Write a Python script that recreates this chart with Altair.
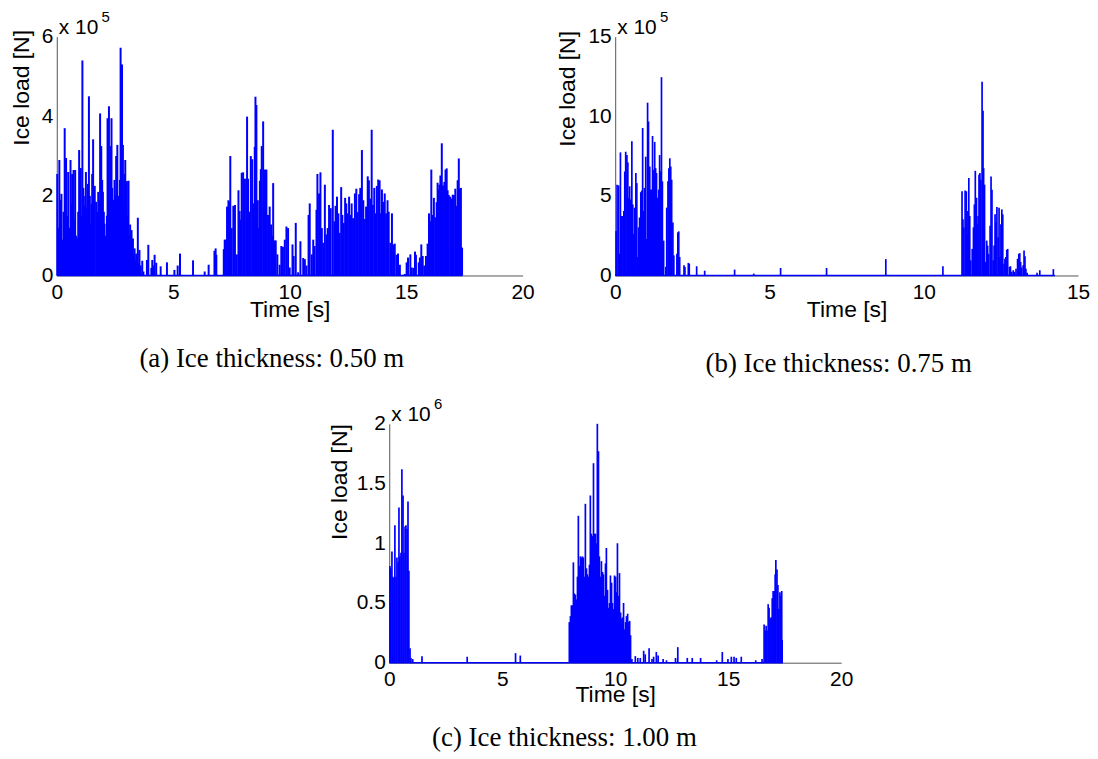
import altair as alt
import pandas as pd

# ---------------- data ----------------
# Panel (a): ice thickness 0.50 m, load in units of 1e5 N
a_time = [0.02,0.06,0.11,0.16,0.2,0.25,0.29,0.34,0.37,0.4,0.45,0.49,0.54,0.59,0.63,0.66,0.72,0.76,0.79,0.83,
          0.87,0.92,0.96,1.0,1.03,1.06,1.1,1.14,1.18,1.22,1.25,1.3,1.34,1.38,1.42,1.45,1.49,1.52,1.56,1.6,
          1.63,1.69,1.73,1.78,1.82,1.86,1.91,1.95,1.98,2.02,2.05,2.09,2.12,2.15,2.18,2.21,2.24,2.28,2.31,2.35,
          2.38,2.42,2.45,2.48,2.52,2.55,2.6,2.64,2.67,2.71,2.74,2.77,2.8,2.84,2.87,2.9,2.94,2.97,3.01,3.05,
          3.08,3.12,3.15,3.18,3.21,3.24,3.27,3.31,3.34,3.38,3.41,3.45,3.48,3.52,3.55,3.6,3.67,3.72,3.87,3.93,
          4.06,4.1,4.15,4.2,4.27,4.46,4.73,5.05,5.19,5.29,5.85,6.35,6.52,6.77,6.82,6.85,
          7.17,7.21,7.25,7.31,7.37,7.43,7.45,7.51,7.58,7.65,7.73,7.8,7.85,7.9,7.94,8.0,8.07,8.13,8.17,8.21,
          8.25,8.29,8.33,8.39,8.46,8.5,8.53,8.57,8.63,8.68,8.72,8.76,8.8,8.86,8.9,8.94,9.0,9.07,9.14,9.2,
          9.25,9.29,9.35,9.4,9.47,9.57,9.64,9.71,9.79,9.86,9.93,10.0,10.12,10.17,10.26,10.36,10.46,10.58,10.65,10.72,
          10.81,10.86,10.95,11.01,11.07,11.15,11.19,11.26,11.32,11.38,11.44,11.51,11.58,11.63,11.69,11.76,11.85,11.92,11.97,12.03,
          12.09,12.15,12.21,12.26,12.32,12.38,12.43,12.49,12.55,12.6,12.66,12.72,12.8,12.86,12.92,12.98,13.03,13.1,13.16,13.22,
          13.28,13.35,13.4,13.46,13.52,13.57,13.63,13.69,13.74,13.8,13.86,13.91,13.96,14.01,14.08,14.14,14.2,14.25,14.32,14.39,
          14.45,14.51,14.59,14.65,14.73,14.94,15.02,15.08,15.18,15.24,15.31,15.38,15.42,15.54,15.59,15.65,15.71,15.78,15.85,15.92,
          15.98,16.03,16.08,16.13,16.19,16.25,16.31,16.35,16.39,16.43,16.47,16.53,16.58,16.64,16.69,16.74,16.78,16.83,16.89,16.94,
          17.0,17.05,17.11,17.17,17.21,17.26,17.31,17.35,17.4]
a_load = [2.55,1.2,2.9,1.9,2.05,0.9,1.6,3.7,2.9,2.95,1.5,2.6,1.2,2.9,1.8,2.55,2.65,1.4,2.65,1.0,
          0.93,1.6,3.15,1.9,2.7,1.5,5.4,2.2,1.75,2.0,2.6,1.7,2.3,4.5,2.0,1.3,1.8,2.55,3.42,2.0,
          2.25,1.85,1.6,2.1,1.9,4.07,3.25,2.4,2.1,1.6,1.3,1.0,0.8,1.5,3.95,3.0,4.25,1.9,3.25,3.95,
          2.2,1.5,1.9,2.4,2.0,3.0,3.28,2.0,1.3,2.4,5.72,4.9,5.3,3.28,1.8,2.55,2.9,1.9,2.37,1.5,
          2.38,1.0,1.28,0.9,1.14,0.6,0.93,0.5,0.68,0.4,0.55,0.3,1.45,0.3,0.64,0.25,0.37,0.1,0.39,0.77,
          0.19,0.39,0.25,0.52,0.32,0.23,0.33,0.14,0.25,0.55,0.38,0.1,0.27,0.62,0.68,0.52,
          0.66,0.9,0.9,1.73,1.89,1.85,3.0,1.19,1.75,1.77,0.53,2.14,1.62,1.4,2.58,2.59,2.43,2.43,3.99,2.43,
          1.5,1.6,3.0,2.92,1.81,3.23,4.49,4.28,1.89,1.2,2.38,2.67,3.25,3.87,0.58,2.66,2.66,1.52,1.73,1.28,
          1.0,2.32,0.88,0.88,0.53,0.27,0.74,0.72,0.9,1.23,1.19,0.2,0.78,0.49,1.32,0.08,0.86,0.44,0.41,0.25,
          1.52,1.81,0.53,0.9,0.74,1.65,2.55,2.06,2.59,1.19,0.82,2.28,1.03,1.19,1.77,1.69,3.66,1.36,1.75,1.98,
          1.56,1.07,2.22,1.52,1.32,1.95,1.81,1.56,1.98,1.52,1.81,1.44,2.06,2.18,1.59,2.04,2.2,3.15,1.89,1.42,
          1.73,2.49,2.39,1.93,3.66,1.77,2.2,1.56,2.25,2.41,2.39,1.56,2.16,1.85,2.06,1.56,1.89,1.6,0.82,1.56,
          0.78,0.8,0.52,0.55,0.27,0.04,0.33,0.45,0.53,0.2,0.19,0.6,0.52,0.33,0.45,0.78,0.49,0.25,0.49,0.8,
          1.56,1.36,2.66,1.52,1.95,1.46,1.84,2.33,2.16,2.28,2.51,3.32,2.26,2.35,2.66,2.69,2.14,2.02,1.98,1.93,
          2.03,2.02,2.18,1.75,2.39,2.94,2.18,2.2,0.7]
a_end = 17.42

# Panel (b): ice thickness 0.75 m, load in units of 1e5 N
b_time = [0.03,0.06,0.11,0.14,0.17,0.21,0.25,0.28,0.31,0.34,0.38,0.41,0.44,0.47,0.5,0.54,0.57,0.6,0.63,0.67,
          0.7,0.73,0.76,0.79,0.83,0.86,0.89,0.92,0.95,0.99,1.02,1.05,1.08,1.12,1.15,1.18,1.21,1.24,1.28,1.31,
          1.34,1.37,1.41,1.44,1.47,1.5,1.53,1.57,1.64,1.67,1.71,1.74,1.77,1.8,1.83,1.87,1.9,2.0,2.03,2.06,
          2.09,2.23,2.26,2.37,2.4,2.64,2.9,3.87,4.49,5.36,6.85,8.77,10.62,
          11.24,11.27,11.3,11.34,11.38,11.41,11.43,11.46,11.49,11.52,11.57,11.61,11.64,11.67,11.71,11.74,11.76,11.79,11.82,11.85,
          11.89,11.92,11.94,11.97,12.0,12.04,12.07,12.1,12.15,12.18,12.21,12.25,12.28,12.31,12.34,12.37,12.41,12.44,12.47,12.5,
          12.53,12.56,12.6,12.63,12.66,12.69,12.72,12.78,12.81,12.85,12.9,12.94,12.99,13.04,13.08,13.11,13.14,13.17,13.22,13.25,
          13.28,13.31,13.35,13.67,13.76,14.2]
b_load = [2.8,5.7,5.66,1.36,7.73,3.74,3.74,4.05,6.53,7.77,7.56,7.1,4.88,5.6,4.77,8.43,4.46,2.6,4.26,6.43,
          5.8,1.16,3.02,3.64,5.23,5.33,9.26,4.05,5.5,7.46,2.29,10.85,9.67,6.84,5.39,5.39,8.76,6.63,8.39,6.74,
          6.43,4.88,5.39,7.56,6.53,12.45,5.91,2.19,0.54,4.26,5.91,6.74,7.36,6.84,6.01,3.33,1.26,1.36,2.71,2.77,
          1.16,0.64,0.54,0.79,0.74,0.58,0.3,0.37,0.12,0.47,0.47,1.03,0.58,
          5.29,3.53,3.02,5.33,5.29,2.6,4.05,6.12,3.74,0.95,1.67,3.02,4.46,6.57,4.88,3.22,3.74,6.32,6.43,6.01,
          12.17,10.35,6.74,5.7,0.85,2.19,1.88,1.36,3.12,6.22,5.39,0.95,1.88,3.84,3.33,4.3,2.4,4.26,1.16,3.22,
          4.15,3.84,0.74,1.05,1.16,1.61,1.67,0.54,0.58,0.23,0.33,0.23,0.43,1.05,1.36,1.4,0.85,0.5,0.64,1.57,
          1.2,0.43,0.17,0.17,0.33,0.4]
b_end = 14.25

# Panel (c): ice thickness 1.00 m, load in units of 1e6 N
c_time = [0.03,0.07,0.12,0.16,0.21,0.25,0.3,0.34,0.39,0.43,0.47,0.52,0.56,0.61,0.65,0.7,0.74,0.79,0.83,0.87,
          0.92,0.96,1.04,1.45,3.45,5.59,5.8,
          7.97,8.02,8.06,8.1,8.15,8.19,8.24,8.28,8.33,8.37,8.41,8.46,8.5,8.55,8.59,8.64,8.68,8.73,8.77,8.81,
          8.86,8.9,8.95,8.99,9.04,9.08,9.13,9.17,9.21,9.26,9.3,9.35,9.39,9.44,9.48,9.53,9.57,9.61,9.66,9.7,
          9.75,9.79,9.84,9.88,9.93,9.97,10.02,10.06,10.1,10.15,10.19,10.24,10.28,10.33,10.37,10.41,10.46,10.5,10.55,10.59,
          10.64,10.68,10.74,10.89,11.0,11.11,11.26,11.33,11.5,11.63,11.7,11.82,11.9,12.12,12.27,12.67,12.77,13.19,13.41,13.78,
          14.49,14.74,14.99,15.14,15.26,15.36,15.58,16.22,16.5,
          16.59,16.64,16.68,16.72,16.77,16.81,16.86,16.9,16.95,16.99,17.04,17.08,17.11,17.16,17.2,17.24,17.29,17.33,17.37,17.39]
c_load = [0.81,0.79,0.93,0.72,0.71,1.15,0.72,0.88,0.84,1.3,0.89,0.92,1.62,1.4,0.92,1.14,1.15,1.12,1.35,0.77,
          0.12,0.04,0.03,0.055,0.05,0.08,0.06,
          0.34,0.39,0.48,0.48,0.84,0.58,0.57,0.53,0.72,1.23,0.81,0.89,0.88,0.89,0.88,0.72,1.33,0.79,0.74,0.72,
          0.82,1.4,1.08,1.06,1.67,1.08,1.08,1.0,2.0,1.77,0.89,0.72,0.85,0.76,0.74,0.56,0.83,0.96,0.61,0.46,
          0.5,0.73,0.67,0.5,0.45,0.73,0.72,0.59,1.0,0.56,0.75,0.42,0.37,0.38,0.5,0.28,0.34,0.39,0.41,0.34,
          0.35,0.23,0.03,0.055,0.04,0.04,0.1,0.07,0.12,0.03,0.05,0.09,0.06,0.03,0.02,0.04,0.13,0.04,0.04,0.04,
          0.02,0.09,0.03,0.05,0.05,0.04,0.05,0.02,0.03,
          0.32,0.27,0.31,0.27,0.49,0.46,0.37,0.38,0.54,0.6,0.6,0.74,0.86,0.78,0.65,0.45,0.59,0.56,0.6,0.19]
c_end = 17.42

# axis ticks and labels
a_xticks = [0, 5, 10, 15, 20]
a_yticks = [0, 2, 4, 6]
b_xticks = [0, 5, 10, 15]
b_yticks = [0, 5, 10, 15]
c_xticks = [0, 5, 10, 15, 20]
c_yticks = [0, 0.5, 1, 1.5, 2]

SANS = "Liberation Sans"
SERIF = "Liberation Serif"
BLUE = "#0000ff"


def panel(times, loads, end, xticks, yticks, exponent, caption, width, height,
          title_x, title_y, x_title_pad, cap_offset, cap_dx, stroke):
    df = pd.DataFrame({"t": times, "v": loads})
    df["z"] = 0.0
    base = pd.DataFrame({"t": [0.0, end], "v": [0.0, 0.0]})
    xs = alt.Scale(domain=[xticks[0], xticks[-1]], nice=False, zero=False)
    ys = alt.Scale(domain=[yticks[0], yticks[-1]], nice=False)
    common = dict(grid=False, ticks=False, labelFlush=False, labelOverlap=False,
                  format="~g",
                  labelFont=SANS, labelFontSize=21, labelColor="black",
                  titleFont=SANS, titleFontSize=23, titleFontWeight="normal",
                  titleColor="black", domainColor="#555555", domainWidth=1)
    xaxis = alt.Axis(values=xticks, title="Time [s]", titlePadding=x_title_pad,
                     labelPadding=6, **common)
    yaxis = alt.Axis(values=yticks, title="Ice load [N]", labelPadding=4,
                     titleX=title_x, titleY=title_y, titleAngle=270,
                     titleAlign="center", titleBaseline="middle", **common)
    spikes = alt.Chart(df).mark_rule(color=BLUE, strokeWidth=stroke).encode(
        x=alt.X("t:Q", scale=xs, axis=xaxis),
        y=alt.Y("v:Q", scale=ys, axis=yaxis),
        y2="z:Q",
    )
    baseline = alt.Chart(base).mark_line(color=BLUE, strokeWidth=1.5).encode(
        x=alt.X("t:Q", scale=xs), y=alt.Y("v:Q", scale=ys)
    )
    ex = alt.Chart(pd.DataFrame({"s": ["x 10"]})).mark_text(
        align="left", baseline="alphabetic", font=SANS, fontSize=21, color="black"
    ).encode(x=alt.value(2), y=alt.value(-3), text="s:N")
    sup = alt.Chart(pd.DataFrame({"s": [exponent]})).mark_text(
        align="left", baseline="alphabetic", font=SANS, fontSize=15, color="black"
    ).encode(x=alt.value(45), y=alt.value(-15), text="s:N")
    return alt.layer(spikes, baseline, ex, sup).properties(
        width=width, height=height,
        title=alt.TitleParams(caption, orient="bottom", font=SERIF, fontSize=27,
                              fontWeight="normal", color="black",
                              offset=cap_offset, dx=cap_dx),
    )


A = panel(a_time, a_load, a_end, a_xticks, a_yticks, "5",
          "(a) Ice thickness: 0.50 m", 468, 240, -35, 51, -4, 25, -18, 2.0)
B = panel(b_time, b_load, b_end, b_xticks, b_yticks, "5",
          "(b) Ice thickness: 0.75 m", 465, 240, -48, 52, -4, 30, -8, 1.7)
C = panel(c_time, c_load, c_end, c_xticks, c_yticks, "6",
          "(c) Ice thickness: 1.00 m", 454, 240, -50, 58, -6, 19, -51, 1.7)

spacer = alt.Chart(pd.DataFrame({"s": [""]})).mark_text().encode(
    x=alt.value(0), y=alt.value(0), text="s:N"
).properties(width=273, height=10)

top = alt.hconcat(A, B, spacing=22)
bottom = alt.hconcat(spacer, C, spacing=0)

chart = alt.vconcat(top, bottom, spacing=20).properties(
    padding={"left": 2, "top": 0, "right": 0, "bottom": 0},
    background="white",
).configure_view(stroke=None)

chart.save("out.html", embed_options={"renderer": "svg", "actions": False})
